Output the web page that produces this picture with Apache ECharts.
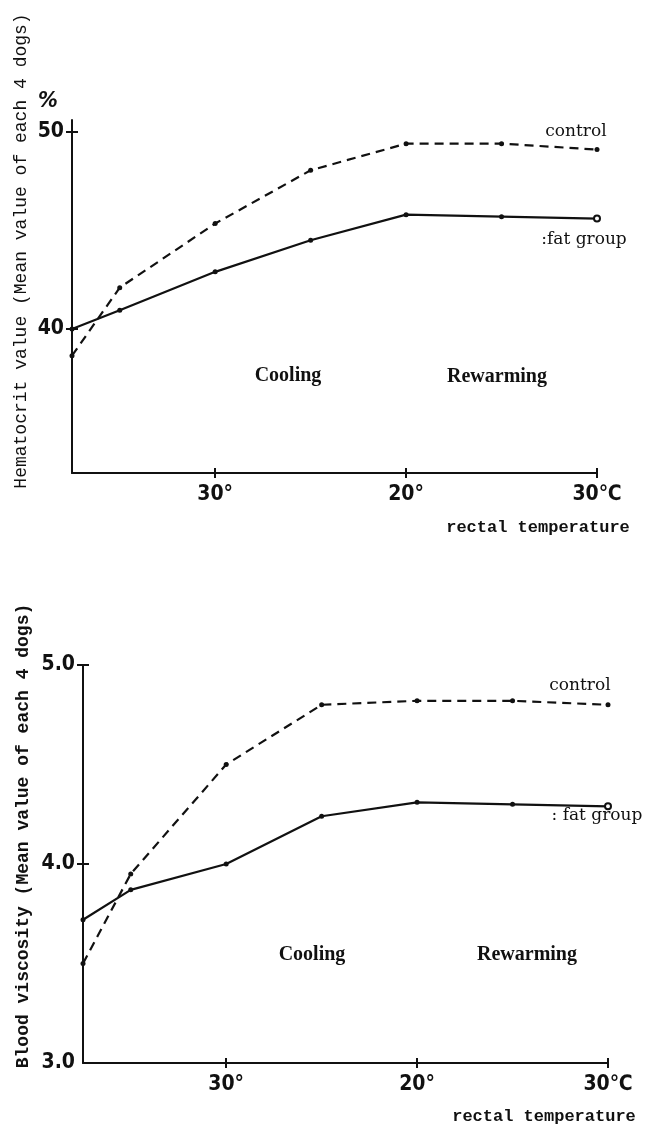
<!DOCTYPE html>
<html>
<head>
<meta charset="utf-8">
<script src="https://cdn.jsdelivr.net/npm/echarts@6/dist/echarts.min.js"></script>
<style>
  html, body { margin: 0; padding: 0; background: #fff; }
  #main { width: 655px; height: 1128px; }
</style>
</head>
<body>
<div id="main"></div>
<script>
// x position of each measurement, in degrees from the 30° mark (cooling then rewarming)
var xPositions = [-7.5, -5, 0, 5, 10, 15, 20];
var xTickValues = [0, 10, 20];
var xTickLabels = ['30°', '20°', '30℃'];

// hematocrit (%)
var hctControl = [38.65, 42.1, 45.35, 48.05, 49.4, 49.4, 49.1];
var hctFat = [40.0, 40.95, 42.9, 44.5, 45.8, 45.7, 45.6];
var hctTicks = [40, 50];

// blood viscosity
var viscControl = [3.50, 3.95, 4.50, 4.80, 4.82, 4.82, 4.80];
var viscFat = [3.72, 3.87, 4.00, 4.24, 4.31, 4.30, 4.29];
var viscTicks = [3, 4, 5];

var ink = '#111';
var labelFont = 'DejaVu Sans Condensed, Liberation Sans Narrow, sans-serif';

function pairs(vals, lastEmpty) {
    return xPositions.map(function (x, i) {
        var item = { value: [x, vals[i]] };
        if (lastEmpty && i === vals.length - 1) {
            item.symbol = 'emptyCircle';
            item.symbolSize = 6;
        }
        return item;
    });
}

// two x axes on the same line: one with outside ticks + labels, one with inside ticks,
// so each tick crosses the axis like in the original
function xAxisPair(gridIndex) {
    var base = {
        gridIndex: gridIndex,
        type: 'value',
        position: 'bottom',
        offset: 0,
        min: -7.5,
        max: 20,
        splitLine: { show: false }
    };
    return [
        Object.assign({}, base, {
            axisLine: { onZero: false, lineStyle: { color: ink, width: 2 } },
            axisTick: { customValues: xTickValues, length: 5, lineStyle: { color: ink, width: 2 } },
            axisLabel: {
                customValues: xTickValues,
                margin: 11,
                color: ink,
                fontFamily: labelFont,
                fontWeight: 'bold',
                fontSize: 21,
                formatter: function (v) { return xTickLabels[xTickValues.indexOf(v)]; }
            }
        }),
        Object.assign({}, base, {
            axisLine: { show: false, onZero: false },
            axisTick: { customValues: xTickValues, inside: true, length: 5, lineStyle: { color: ink, width: 2 } },
            axisLabel: { show: false }
        })
    ];
}

function yAxisPair(gridIndex, min, max, labelValues, tickValues, fmt) {
    var base = {
        gridIndex: gridIndex,
        type: 'value',
        position: 'left',
        offset: 0,
        min: min,
        max: max,
        splitLine: { show: false }
    };
    return [
        Object.assign({}, base, {
            axisLine: { onZero: false, lineStyle: { color: ink, width: 2 } },
            axisTick: { customValues: tickValues, length: 6, lineStyle: { color: ink, width: 2 } },
            axisLabel: {
                customValues: labelValues,
                margin: 8,
                color: ink,
                fontFamily: labelFont,
                fontWeight: 'bold',
                fontSize: 21,
                formatter: fmt
            }
        }),
        Object.assign({}, base, {
            axisLine: { show: false, onZero: false },
            axisTick: { customValues: tickValues, inside: true, length: 6, lineStyle: { color: ink, width: 2 } },
            axisLabel: { show: false }
        })
    ];
}

function text(x, y, str, font, extra) {
    return Object.assign({
        type: 'text',
        x: x,
        y: y,
        style: {
            text: str,
            fill: ink,
            font: font,
            align: 'center',
            verticalAlign: 'middle'
        }
    }, extra || {});
}

var myChart = echarts.init(document.getElementById('main'));

myChart.setOption({
    backgroundColor: '#fff',
    animation: false,
    grid: [
        { left: 72, top: 120, width: 525, height: 353 },
        { left: 83, top: 665, width: 525, height: 398 }
    ],
    xAxis: xAxisPair(0).concat(xAxisPair(1)),
    yAxis: yAxisPair(0, 32.7, 50.6, hctTicks, hctTicks, function (v) { return String(v); })
        .concat(yAxisPair(1, 3, 5, viscTicks, [4, 5], function (v) { return v.toFixed(1); })),
    series: [
        {
            name: 'control', type: 'line', xAxisIndex: 0, yAxisIndex: 0,
            data: pairs(hctControl, false),
            symbol: 'circle', symbolSize: 5,
            itemStyle: { color: ink },
            lineStyle: { color: ink, width: 2.2, type: [9, 6] }
        },
        {
            name: 'fat group', type: 'line', xAxisIndex: 0, yAxisIndex: 0,
            data: pairs(hctFat, true),
            symbol: 'circle', symbolSize: 5,
            itemStyle: { color: ink },
            lineStyle: { color: ink, width: 2.2 }
        },
        {
            name: 'control', type: 'line', xAxisIndex: 2, yAxisIndex: 2,
            data: pairs(viscControl, false),
            symbol: 'circle', symbolSize: 5,
            itemStyle: { color: ink },
            lineStyle: { color: ink, width: 2.2, type: [9, 6] }
        },
        {
            name: 'fat group', type: 'line', xAxisIndex: 2, yAxisIndex: 2,
            data: pairs(viscFat, true),
            symbol: 'circle', symbolSize: 5,
            itemStyle: { color: ink },
            lineStyle: { color: ink, width: 2.2 }
        }
    ],
    graphic: [
        // top panel
        text(21, 251, 'Hematocrit value (Mean value of each 4 dogs)', '18px "Liberation Mono"', { rotation: Math.PI / 2 }),
        text(48, 101, '%', 'bold italic 22px "DejaVu Sans Condensed"'),
        text(576, 132, 'control', '17px "DejaVu Serif"'),
        text(584, 240, ':fat group', '17px "DejaVu Serif"'),
        text(288, 376, 'Cooling', 'bold 20px "Liberation Serif"'),
        text(497, 377, 'Rewarming', 'bold 20px "Liberation Serif"'),
        text(538, 528, 'rectal temperature', 'bold 17px "Liberation Mono"'),
        // bottom panel
        text(23, 836, 'Blood viscosity (Mean value of each 4 dogs)', 'bold 18px "Liberation Mono"', { rotation: Math.PI / 2 }),
        text(580, 686, 'control', '17px "DejaVu Serif"'),
        text(597, 816, ': fat group', '17px "DejaVu Serif"'),
        text(312, 955, 'Cooling', 'bold 20px "Liberation Serif"'),
        text(527, 955, 'Rewarming', 'bold 20px "Liberation Serif"'),
        text(544, 1117, 'rectal temperature', 'bold 17px "Liberation Mono"')
    ]
});
</script>
</body>
</html>
